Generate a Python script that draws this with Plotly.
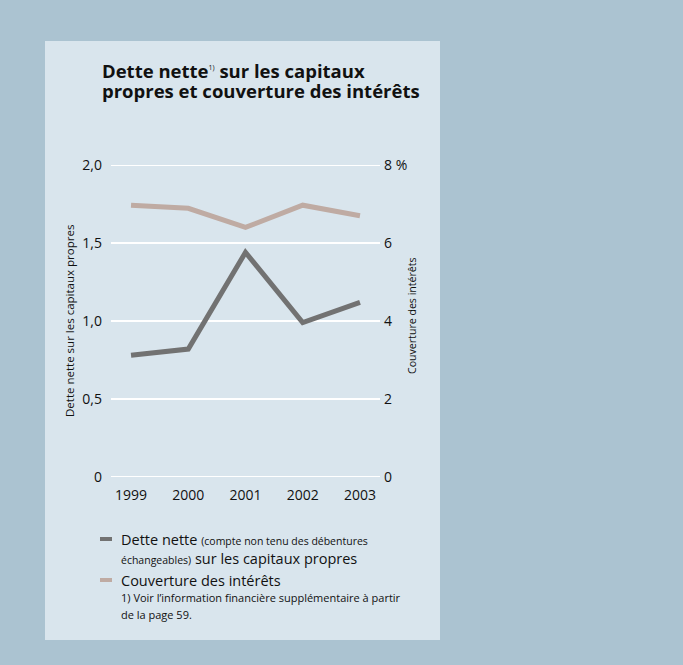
import plotly.graph_objects as go

years = [1999, 2000, 2001, 2002, 2003]
dette_nette = [0.78, 0.82, 1.44, 0.99, 1.12]
couverture = [6.97, 6.89, 6.40, 6.97, 6.70]

y1_ticks = [0, 0.5, 1.0, 1.5, 2.0]
y1_text = ["0", "0,5", "1,0", "1,5", "2,0"]
y2_ticks = [0, 2, 4, 6, 8]
y2_text = ["0", "2", "4", "6", "8 %"]

W, H = 683, 665
L, R, T, B = 111, 380, 165, 477  # plot area in pixels

def px(x):
    return (x - L) / (R - L)

def py(y):
    return (B - y) / (B - T)

FONT = "Open Sans"
OUTER = "#abc3d1"
PANEL = "#d9e5ed"
DARK = "#727272"
LIGHT = "#bfaba3"

fig = go.Figure()
fig.add_trace(go.Scatter(x=years, y=dette_nette, mode="lines",
                         line=dict(color=DARK, width=5), yaxis="y",
                         name="Dette nette", showlegend=False))
fig.add_trace(go.Scatter(x=years, y=couverture, mode="lines",
                         line=dict(color=LIGHT, width=5), yaxis="y2",
                         name="Couverture des intérêts", showlegend=False))

# outer frame drawn around the light panel (does not overlap the plot area)
PX0, PX1, PY0, PY1 = 45, 440, 41, 640
def frame(x0, x1, y0, y1):
    return dict(type="rect", xref="paper", yref="paper", layer="below",
                x0=px(x0), x1=px(x1), y0=py(y1), y1=py(y0),
                fillcolor=OUTER, line=dict(width=0))

shapes = [
    frame(0, W, 0, PY0),
    frame(0, W, PY1, H),
    frame(0, PX0, 0, H),
    frame(PX1, W, 0, H),
    dict(type="rect", xref="paper", yref="paper",
         x0=px(100), x1=px(112), y0=py(541), y1=py(537),
         fillcolor=DARK, line=dict(width=0)),
    dict(type="rect", xref="paper", yref="paper",
         x0=px(100), x1=px(112), y0=py(582), y1=py(578),
         fillcolor=LIGHT, line=dict(width=0)),
]
# horizontal white gridlines at the left-axis tick values
for v in y1_ticks:
    shapes.append(dict(type="line", xref="paper", yref="y", layer="between",
                       x0=0, x1=1, y0=v, y1=v,
                       line=dict(color="white", width=2)))

def ann(text, x, y, size, **kw):
    d = dict(text=text, xref="paper", yref="paper", x=px(x), y=py(y),
             xanchor="left", yanchor="middle", showarrow=False,
             font=dict(family=FONT, size=size, color="#111111"))
    d.update(kw)
    return d

annotations = [
    ann("<b>Dette nette</b><sup><span style='font-size:7px'>1)</span></sup><b> sur les capitaux</b>", 100, 71, 18.5),
    ann("<b>propres et couverture des intérêts</b>", 100, 91, 18.5),
    dict(text="Dette nette sur les capitaux propres", xref="paper", yref="paper",
         x=px(69), y=py(321), textangle=-90, showarrow=False,
         xanchor="center", yanchor="middle",
         font=dict(family=FONT, size=11.5, color="#111111")),
    dict(text="Couverture des intérêts", xref="paper", yref="paper",
         x=px(412), y=py(316), textangle=-90, showarrow=False,
         xanchor="center", yanchor="middle",
         font=dict(family=FONT, size=10.6, color="#111111")),
    ann("Dette nette <span style='font-size:10.5px'>(compte non tenu des débentures</span>", 119, 539, 14.5),
    ann("<span style='font-size:10.5px'>échangeables)</span> sur les capitaux propres", 119, 558, 14.5),
    ann("Couverture des intérêts", 119, 580, 14.5),
    ann("1) Voir l’information financière supplémentaire à partir", 119, 597, 11),
    ann("de la page 59.", 119, 614, 11),
]

fig.update_layout(
    width=W, height=H,
    margin=dict(l=L, r=W - R, t=T, b=H - B, pad=0),
    paper_bgcolor=PANEL,
    plot_bgcolor=PANEL,
    showlegend=False,
    shapes=shapes,
    annotations=annotations,
    xaxis=dict(range=[1998.65, 2003.35], tickvals=years,
               ticktext=[str(y) for y in years],
               showgrid=False, zeroline=False, showline=False,
               ticks="", ticklabelstandoff=8,
               tickfont=dict(family=FONT, size=14, color="#111111")),
    yaxis=dict(range=[0, 2], tickvals=y1_ticks, ticktext=y1_text,
               showgrid=False, zeroline=False, showline=False, ticks="",
               ticklabelstandoff=8,
               tickfont=dict(family=FONT, size=14, color="#111111")),
    yaxis2=dict(range=[0, 8], tickvals=y2_ticks, ticktext=y2_text,
                overlaying="y", side="right",
                showgrid=False, zeroline=False, showline=False, ticks="",
                ticklabelstandoff=3,
                tickfont=dict(family=FONT, size=14, color="#111111")),
)

fig.write_html("out.html")
